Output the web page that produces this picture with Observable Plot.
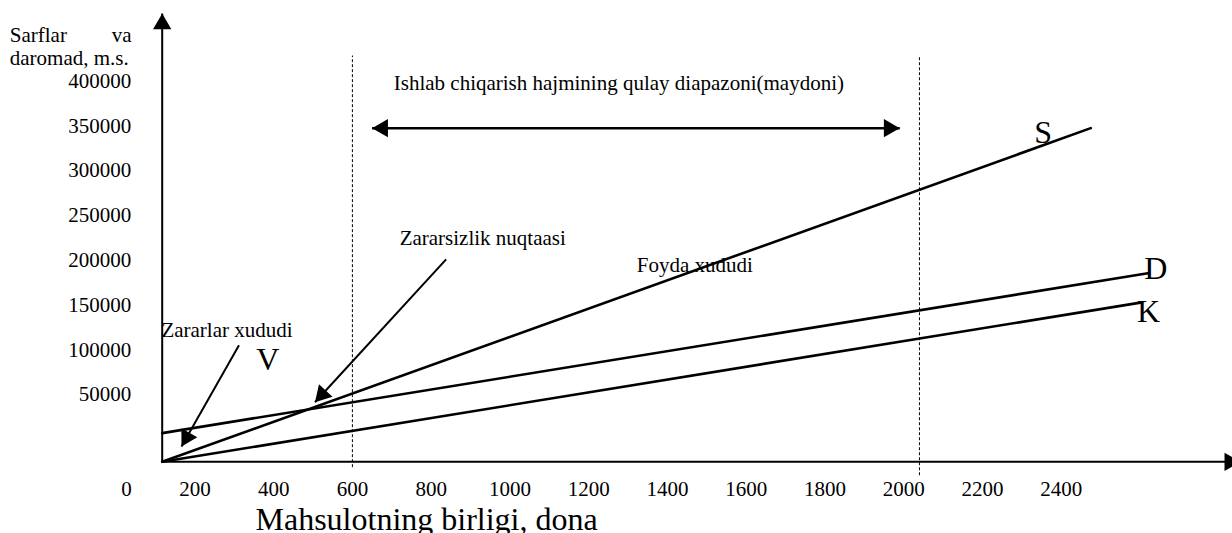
<!DOCTYPE html>
<html><head><meta charset="utf-8">
<script src="https://cdn.jsdelivr.net/npm/d3@7"></script>
<script src="https://cdn.jsdelivr.net/npm/@observablehq/plot@0.6"></script>
<style>html,body{margin:0;padding:0;background:#fff;overflow:hidden}</style>
</head><body><div id="chart"></div>
<script>
// ---- data ----
const xTicks = [0, 200, 400, 600, 800, 1000, 1200, 1400, 1600, 1800, 2000, 2200, 2400];
const yTicks = [50000, 100000, 150000, 200000, 250000, 300000, 350000, 400000];
const yTitle = ["Sarflar", "va", "daromad, m.s."];
const xTitle = "Mahsulotning birligi, dona";

const origin = {x: 117, y: -25000};
const lineS = [{x: 117, y: -25000}, {x: 2475, y: 347500}];
const lineD = [{x: 117, y: 7000},   {x: 2620, y: 185500}];
const lineK = [{x: 117, y: -25000}, {x: 2605, y: 153000}];

const seriesLabels = [
  {text: "S", x: 2354, y: 342000},
  {text: "D", x: 2640, y: 190800},
  {text: "K", x: 2622, y: 142500},
  {text: "V", x: 385,  y: 88500}
];
const notes = [
  {text: "Zararlar xududi",      x: 115,  y: 121600},
  {text: "Zararsizlik nuqtaasi", x: 720,  y: 225100},
  {text: "Foyda xududi",         x: 1322, y: 194200},
  {text: "Ishlab chiqarish hajmining qulay diapazoni(maydoni)", x: 705, y: 397100}
];
const rangeLines = [
  {x: 600,  y1: -31000, y2: 428600},
  {x: 2040, y1: -40000, y2: 428600}
];
const axisEnds = {xTip: 2855, yTip: 475500};
const pointers = [
  {x1: 312, y1: 105000, x2: 166, y2: -8000},   // Zararlar xududi
  {x1: 838, y1: 201000, x2: 505, y2: 41500}    // Zararsizlik nuqtaasi
];
const rangeArrow = {x1: 650, x2: 1990, y: 347500};

// ---- layout ----
const W = 1232, H = 533;
const mL = 161.7, mR = 0, mT = 0, mB = 71.7;
const xDomain = [117, 2835], yDomain = [-25000, 490000];
const sx = d3.scaleLinear(xDomain, [mL, W - mR]);
const sy = d3.scaleLinear(yDomain, [H - mB, mT]);

function head(x1, y1, x2, y2, r = 6.8) {
  const px1 = sx(x1), py1 = sy(y1), px2 = sx(x2), py2 = sy(y2);
  const L = Math.hypot(px2 - px1, py2 - py1);
  const ux = (px2 - px1) / L, uy = (py2 - py1) / L;
  const rot = Math.atan2(ux, -uy) * 180 / Math.PI;
  const back = 2 * Math.sqrt(Math.PI / (3 * Math.sqrt(3))) * r;
  return Plot.dot([{x: x2, y: y2}], {
    x: "x", y: "y", symbol: "triangle", r, fill: "black", stroke: "none",
    rotate: rot, dx: -ux * back, dy: -uy * back
  });
}

const axesLinks = [
  {x1: origin.x, y1: origin.y, x2: origin.x, y2: axisEnds.yTip},
  {x1: origin.x, y1: origin.y, x2: axisEnds.xTip, y2: origin.y}
];
const rangeLink = [{x1: rangeArrow.x1, y1: rangeArrow.y, x2: rangeArrow.x2, y2: rangeArrow.y}];

const font = "'Liberation Serif', 'Times New Roman', serif";
const T = {fill: "black", fontFamily: font};

const chart = Plot.plot({
  width: W, height: H,
  marginLeft: mL, marginRight: mR, marginTop: mT, marginBottom: mB,
  style: {fontFamily: font, fontSize: "21px", background: "white", color: "black", overflow: "visible"},
  x: {type: "linear", domain: xDomain, label: null},
  y: {type: "linear", domain: yDomain, label: null},
  marks: [
    Plot.axisX({ticks: xTicks.filter(d => d > 0), tickSize: 0, tickPadding: 19.5, tickFormat: d => String(d), label: null, fontSize: 21, fontFamily: font, fill: "black"}),
    Plot.axisY({ticks: yTicks, tickSize: 0, tickPadding: 31, tickFormat: d => String(d), label: null, fontSize: 21, fontFamily: font, fill: "black"}),
    // dashed range bounds
    Plot.link(rangeLines, {x1: "x", x2: "x", y1: "y1", y2: "y2", stroke: "black", strokeWidth: 1, strokeDasharray: "3,2"}),
    // axes
    Plot.link(axesLinks, {x1: "x1", y1: "y1", x2: "x2", y2: "y2", stroke: "black", strokeWidth: 2}),
    head(origin.x, origin.y, origin.x, axisEnds.yTip),
    head(origin.x, origin.y, axisEnds.xTip, origin.y),
    // series lines
    Plot.line(lineS, {x: "x", y: "y", stroke: "black", strokeWidth: 2.6}),
    Plot.line(lineD, {x: "x", y: "y", stroke: "black", strokeWidth: 2.6}),
    Plot.line(lineK, {x: "x", y: "y", stroke: "black", strokeWidth: 2.6}),
    // pointers
    Plot.link(pointers, {x1: "x1", y1: "y1", x2: "x2", y2: "y2", stroke: "black", strokeWidth: 2}),
    ...pointers.map(p => head(p.x1, p.y1, p.x2, p.y2)),
    // range double arrow
    Plot.link(rangeLink, {x1: "x1", y1: "y1", x2: "x2", y2: "y2", stroke: "black", strokeWidth: 2.5}),
    head(rangeArrow.x2, rangeArrow.y, rangeArrow.x1, rangeArrow.y),
    head(rangeArrow.x1, rangeArrow.y, rangeArrow.x2, rangeArrow.y),
    // texts
    Plot.text(notes, {x: "x", y: "y", text: "text", textAnchor: "start", lineAnchor: "middle", fontSize: 21, ...T}),
    Plot.text(seriesLabels, {x: "x", y: "y", text: "text", lineAnchor: "middle", fontSize: 32, ...T}),
    Plot.text([xTicks[0]], {x: d => d, frameAnchor: "bottom", text: d => String(d), lineAnchor: "top", dy: 19.5, dx: 10.4, fontSize: 21, ...T}),
    Plot.text([yTitle[0]], {frameAnchor: "top-left", text: d => d, textAnchor: "start", lineAnchor: "middle", dx: -152.4, dy: 35, fontSize: 21, ...T}),
    Plot.text([yTitle[1]], {frameAnchor: "top-left", text: d => d, textAnchor: "end", lineAnchor: "middle", dx: -30.7, dy: 35, fontSize: 21, ...T}),
    Plot.text([yTitle[2]], {frameAnchor: "top-left", text: d => d, textAnchor: "start", lineAnchor: "middle", dx: -152.4, dy: 57.3, fontSize: 21, ...T}),
    Plot.text([xTitle], {frameAnchor: "bottom-left", text: d => d, textAnchor: "start", lineAnchor: "middle", dx: 93.3, dy: 57.5, fontSize: 32, ...T})
  ]
});
document.getElementById("chart").appendChild(chart);
</script>
</body></html>
